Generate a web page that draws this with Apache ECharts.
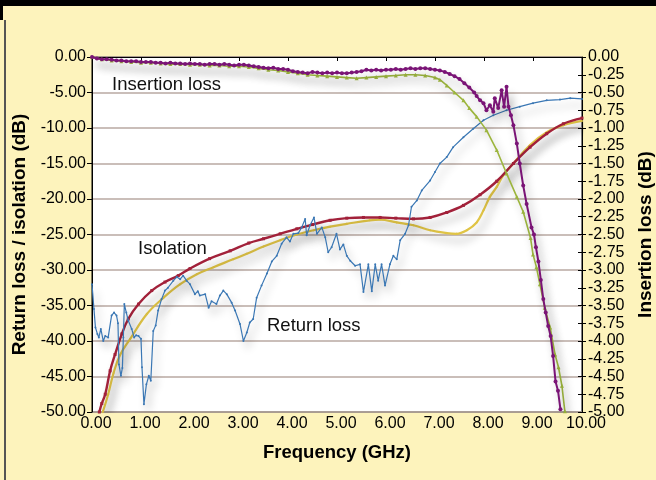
<!DOCTYPE html>
<html>
<head>
<meta charset="utf-8">
<script src="https://cdn.jsdelivr.net/npm/echarts@6/dist/echarts.min.js"></script>
<style>
html,body{margin:0;padding:0;background:#FDF3BC;}
#c{width:656px;height:480px;}
</style>
</head>
<body>
<div id="c"></div>
<script>
// ---- Data ----
var xTicks = [0,1,2,3,4,5,6,7,8,9,10];

// Return loss (left axis, dB)
var rlFreq = [0.00,0.04,0.07,0.11,0.14,0.18,0.23,0.27,0.33,0.40,0.45,0.50,0.53,0.55,0.59,0.62,0.64,0.66,0.70,0.74,0.81,0.86,0.90,0.95,1.00,1.02,1.06,1.11,1.16,1.20,1.25,1.30,1.35,1.42,1.49,1.55,1.66,1.73,1.80,1.86,1.93,2.00,2.10,2.16,2.20,2.31,2.38,2.44,2.54,2.61,2.68,2.75,2.85,2.92,3.02,3.09,3.16,3.22,3.29,3.36,3.46,3.57,3.67,3.77,3.87,3.97,4.04,4.11,4.21,4.28,4.35,4.38,4.45,4.53,4.59,4.69,4.76,4.82,4.89,4.99,5.06,5.13,5.20,5.27,5.37,5.47,5.54,5.64,5.71,5.78,5.84,5.91,5.98,6.08,6.15,6.22,6.29,6.39,6.46,6.52,6.63,6.73,6.90,7.00,7.10,7.24,7.37,7.58,7.78,7.99,8.19,8.46,8.73,9.00,9.28,9.55,9.76,10.00];
var rlVal = [-32.0,-35.5,-38.1,-39.0,-39.5,-38.3,-40.0,-39.3,-39.5,-36.4,-36.0,-36.4,-37.5,-43.3,-44.9,-43.8,-39.5,-34.8,-36.0,-37.1,-38.3,-39.5,-39.2,-39.3,-39.7,-43.7,-48.9,-46.1,-44.9,-45.6,-38.6,-37.8,-35.7,-34.1,-32.9,-32.5,-31.5,-31.0,-31.3,-30.8,-31.5,-32.0,-33.4,-33.0,-33.6,-33.4,-35.3,-34.4,-34.8,-33.6,-32.9,-33.4,-34.6,-35.7,-37.6,-40.0,-38.8,-37.4,-36.9,-33.9,-32.2,-30.5,-28.8,-28.0,-26.3,-25.4,-26.0,-24.9,-24.8,-24.0,-22.8,-25.1,-23.7,-22.6,-24.9,-24.0,-25.4,-27.5,-26.8,-24.9,-27.1,-26.4,-28.0,-28.7,-29.4,-29.2,-33.1,-29.2,-33.0,-29.2,-31.5,-29.2,-32.2,-29.2,-28.0,-28.5,-25.8,-24.9,-23.7,-21.1,-20.2,-18.8,-17.4,-16.2,-15.0,-14.1,-12.7,-11.3,-10.1,-8.9,-8.2,-7.5,-7.0,-6.5,-6.1,-6.0,-5.8,-5.9];

// Isolation, dark red trace (left axis, dB)
var isoRedFreq = [0.15,0.20,0.27,0.37,0.47,0.61,0.74,0.95,1.22,1.49,1.76,2.00,2.40,2.82,3.20,3.50,3.84,4.18,4.50,4.86,5.20,5.54,5.88,6.20,6.56,6.90,7.24,7.58,7.92,8.26,8.60,8.94,9.28,9.62,10.00];
var isoRedVal = [-50.0,-48.8,-47.5,-44.2,-41.9,-39.0,-36.9,-34.8,-32.9,-31.7,-30.8,-29.8,-28.4,-27.3,-26.2,-25.6,-24.9,-24.2,-23.6,-23.0,-22.7,-22.6,-22.6,-22.7,-22.8,-22.6,-21.9,-20.9,-19.4,-17.5,-15.0,-12.7,-10.8,-9.4,-8.6];

// Isolation, yellow trace (left axis, dB)
var isoYelFreq = [0.22,0.33,0.44,0.57,0.78,1.12,1.46,1.80,2.14,2.48,2.88,3.16,3.50,3.84,4.18,4.52,4.86,5.20,5.67,5.88,6.22,6.56,6.90,7.24,7.44,7.65,7.85,7.99,8.12,8.26,8.39,8.60,8.94,9.28,9.62,10.00];
var isoYelVal = [-50.0,-47.5,-44.5,-42.0,-39.7,-36.2,-33.9,-32.0,-30.6,-29.6,-28.5,-27.7,-26.7,-25.8,-25.0,-24.4,-23.9,-23.5,-23.0,-22.9,-23.3,-23.7,-24.4,-24.8,-24.9,-24.4,-23.3,-21.6,-19.7,-18.3,-16.7,-15.0,-12.4,-10.6,-9.6,-9.0];

// Insertion loss, purple trace (right axis, dB)
var ilPurFreq = [0.0,0.1,0.2,0.3,0.4,0.5,0.6,0.7,0.8,0.9,1.0,1.1,1.2,1.3,1.4,1.5,1.6,1.7,1.8,1.9,2.0,2.1,2.2,2.3,2.4,2.5,2.6,2.7,2.8,2.9,3.0,3.1,3.2,3.3,3.4,3.5,3.6,3.7,3.8,3.9,4.0,4.1,4.2,4.3,4.4,4.5,4.6,4.7,4.8,4.9,5.0,5.1,5.2,5.3,5.4,5.5,5.6,5.7,5.8,5.9,6.0,6.1,6.2,6.3,6.4,6.5,6.6,6.7,6.8,6.9,7.0,7.1,7.2,7.3,7.4,7.5,7.6,7.7,7.8,7.85,7.92,7.99,8.05,8.12,8.19,8.22,8.29,8.36,8.41,8.46,8.50,8.55,8.60,8.67,8.73,8.80,8.87,8.97,9.02,9.06,9.11,9.16,9.21,9.26,9.31,9.36,9.41,9.46,9.51,9.56];
var ilPurVal = [0.00,-0.02,-0.03,-0.03,-0.04,-0.05,-0.05,-0.06,-0.06,-0.06,-0.07,-0.07,-0.07,-0.08,-0.08,-0.09,-0.08,-0.09,-0.09,-0.10,-0.09,-0.10,-0.10,-0.11,-0.10,-0.10,-0.11,-0.10,-0.11,-0.12,-0.11,-0.11,-0.12,-0.13,-0.14,-0.15,-0.16,-0.15,-0.17,-0.17,-0.18,-0.20,-0.21,-0.22,-0.23,-0.21,-0.22,-0.23,-0.22,-0.23,-0.22,-0.23,-0.23,-0.22,-0.21,-0.20,-0.18,-0.19,-0.18,-0.19,-0.18,-0.18,-0.17,-0.18,-0.17,-0.16,-0.17,-0.16,-0.16,-0.17,-0.18,-0.19,-0.21,-0.24,-0.27,-0.31,-0.37,-0.43,-0.50,-0.55,-0.61,-0.65,-0.75,-0.68,-0.77,-0.58,-0.72,-0.47,-0.70,-0.42,-0.70,-0.82,-0.96,-1.22,-1.50,-1.81,-2.07,-2.40,-2.50,-2.68,-2.88,-3.14,-3.41,-3.60,-3.79,-3.93,-4.21,-4.57,-4.70,-4.96];

// Insertion loss, green trace (right axis, dB)
var ilGrnFreq = [0.0,0.2,0.4,0.6,0.8,1.0,1.2,1.4,1.6,1.8,2.0,2.2,2.4,2.6,2.8,3.0,3.2,3.4,3.6,3.8,4.0,4.2,4.4,4.6,4.8,5.0,5.2,5.4,5.6,5.8,6.0,6.2,6.4,6.6,6.8,7.0,7.1,7.24,7.4,7.58,7.7,7.85,8.05,8.26,8.46,8.67,8.80,8.95,9.00,9.07,9.14,9.24,9.35,9.45,9.52,9.59,9.65];
var ilGrnVal = [0.00,-0.03,-0.05,-0.06,-0.07,-0.08,-0.08,-0.09,-0.10,-0.10,-0.11,-0.11,-0.12,-0.12,-0.13,-0.13,-0.14,-0.16,-0.18,-0.19,-0.21,-0.23,-0.25,-0.26,-0.27,-0.28,-0.29,-0.30,-0.29,-0.28,-0.27,-0.26,-0.25,-0.25,-0.26,-0.29,-0.32,-0.40,-0.50,-0.61,-0.72,-0.84,-1.03,-1.31,-1.64,-1.97,-2.18,-2.55,-2.78,-2.96,-3.20,-3.53,-3.81,-4.19,-4.37,-4.63,-4.99];

function zip(a,b){ return a.map(function(v,i){ return [v,b[i]]; }); }

var FONT = '"Liberation Sans", Arial, Helvetica, sans-serif';
var shadow = {shadowBlur: 8, shadowColor: 'rgba(0,0,0,0.33)', shadowOffsetX: 4, shadowOffsetY: 7};
function ls(color, width){ return Object.assign({color: color, width: width}, shadow); }

var chart = echarts.init(document.getElementById('c'), null, {renderer: 'canvas'});
chart.setOption({
  backgroundColor: '#FDF3BC',
  animation: false,
  textStyle: {fontFamily: FONT},
  grid: {left: 92, right: 74, top: 57, bottom: 68, containLabel: false, outerBoundsMode: 'none',
         show: true, backgroundColor: '#ffffff', borderColor: '#000', borderWidth: 1},
  xAxis: {
    type: 'value', min: xTicks[0], max: xTicks[xTicks.length-1], interval: 1,
    name: 'Frequency (GHz)', nameLocation: 'middle', nameGap: 31,
    nameTextStyle: {fontSize: 18.5, fontWeight: 'bold', color: '#000', fontFamily: FONT},
    axisLine: {lineStyle: {color: '#000', width: 1}},
    axisTick: {show: true, length: 4, lineStyle: {color: '#000'}},
    axisLabel: {color: '#000', fontSize: 16, margin: 4, padding: [0, 0, 0, 8], fontFamily: FONT, formatter: function(v){ return v.toFixed(2); }},
    splitLine: {show: false}
  },
  yAxis: [
    {
      type: 'value', position: 'left', min: -50, max: 0, interval: 5,
      name: 'Return loss / isolation (dB)', nameLocation: 'middle', nameGap: 62, nameRotate: 90,
      nameTextStyle: {fontSize: 19, fontWeight: 'bold', color: '#000', fontFamily: FONT},
      axisLine: {show: true, lineStyle: {color: '#000', width: 1}},
      axisTick: {show: true, length: 5, lineStyle: {color: '#000'}},
      axisLabel: {color: '#000', fontSize: 16, margin: 6, fontFamily: FONT, formatter: function(v){ return v.toFixed(2); }},
      splitLine: {show: true, lineStyle: {color: '#B9A8A2', width: 1.5}}
    },
    {
      type: 'value', position: 'right', min: -5, max: 0, interval: 0.25,
      name: 'Insertion loss (dB)', nameLocation: 'middle', nameGap: 54, nameRotate: 90,
      nameTextStyle: {fontSize: 19, fontWeight: 'bold', color: '#000', fontFamily: FONT},
      axisLine: {show: true, lineStyle: {color: '#000', width: 1}},
      axisTick: {show: true, length: 4, lineStyle: {color: '#000'}},
      axisLabel: {color: '#000', fontSize: 16, margin: 6, fontFamily: FONT, formatter: function(v){ return v.toFixed(2); }},
      splitLine: {show: false}
    },
    {
      type: 'value', position: 'right', min: -5, max: 0, interval: 0.25,
      axisLine: {show: false},
      axisTick: {show: true, inside: true, length: 4, lineStyle: {color: '#000'}},
      axisLabel: {show: false},
      splitLine: {show: false}
    }
  ],
  series: [
    {name: 'Isolation B', type: 'line', yAxisIndex: 0, data: zip(isoYelFreq, isoYelVal), smooth: 0.4,
     symbol: 'diamond', symbolSize: 2.5, showSymbol: true, itemStyle: {color: '#E0C445'}, lineStyle: ls('#E0C445', 2.2), z: 2},
    {name: 'Isolation A', type: 'line', yAxisIndex: 0, data: zip(isoRedFreq, isoRedVal), smooth: 0.4,
     symbol: 'rect', symbolSize: 3, showSymbol: true, itemStyle: {color: '#A2213A'}, lineStyle: ls('#A2213A', 2.4), z: 3},
    {name: 'Return loss', type: 'line', yAxisIndex: 0, data: zip(rlFreq, rlVal),
     symbol: 'circle', symbolSize: 2, showSymbol: true, itemStyle: {color: '#3A77B4'}, lineStyle: ls('#3A77B4', 1.2), z: 4},
    {name: 'Insertion loss B', type: 'line', yAxisIndex: 1, data: zip(ilGrnFreq, ilGrnVal),
     symbol: 'triangle', symbolSize: 4, showSymbol: true, itemStyle: {color: '#9CB53D'}, lineStyle: ls('#9CB53D', 1.6), z: 5},
    {name: 'Insertion loss A', type: 'line', yAxisIndex: 1, data: zip(ilPurFreq, ilPurVal),
     symbol: 'circle', symbolSize: 4, showSymbol: true, itemStyle: {color: '#7A1476'}, lineStyle: ls('#7A1476', 2), z: 6}
  ],
  graphic: [
    {type: 'rect', shape: {x: 0, y: 0, width: 656, height: 6}, style: {fill: '#000'}, z: 100},
    {type: 'rect', shape: {x: 0, y: 0, width: 3, height: 20}, style: {fill: '#000'}, z: 100},
    {type: 'rect', shape: {x: 4, y: 20, width: 2, height: 460}, style: {fill: '#555'}, z: 100},
    {type: 'text', x: 112, y: 85, style: {text: 'Insertion loss', font: '18.5px ' + FONT, fill: '#111', verticalAlign: 'middle'}, z: 100},
    {type: 'text', x: 138, y: 249, style: {text: 'Isolation', font: '18.5px ' + FONT, fill: '#111', verticalAlign: 'middle'}, z: 100},
    {type: 'text', x: 267, y: 326, style: {text: 'Return loss', font: '18.5px ' + FONT, fill: '#111', verticalAlign: 'middle'}, z: 100}
  ]
});
</script>
</body>
</html>
